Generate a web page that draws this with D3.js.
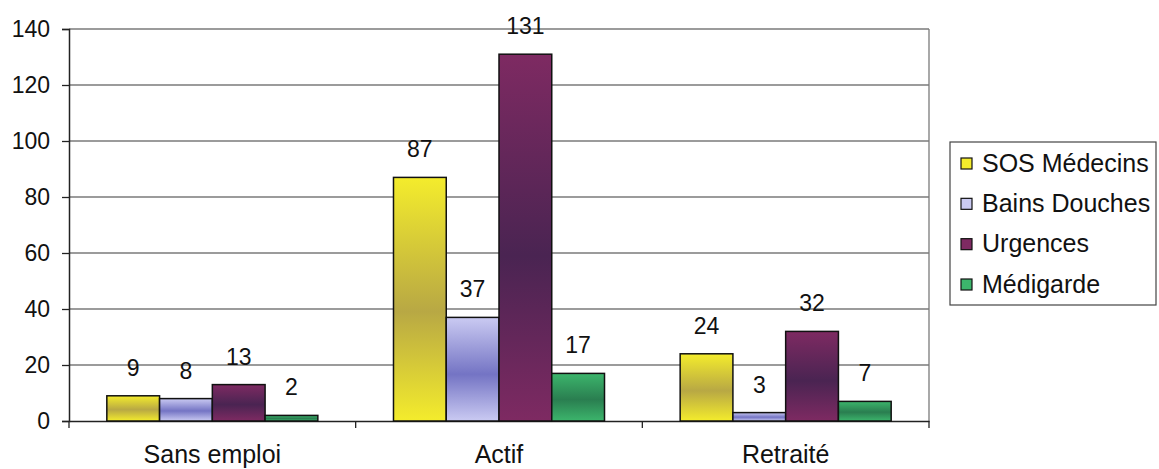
<!DOCTYPE html>
<html>
<head>
<meta charset="utf-8">
<script src="https://cdn.jsdelivr.net/npm/d3@7"></script>
<style>
  body { margin: 0; background: #fff; }
  svg text { font-family: "Liberation Sans", Arial, sans-serif; fill: #111; }
</style>
</head>
<body>
<svg id="chart" width="1159" height="469"></svg>
<script>
const categories = ["Sans emploi", "Actif", "Retraité"]
const series = ["SOS Médecins", "Bains Douches", "Urgences", "Médigarde"]
const values = [
  [9, 87, 24],   // SOS Médecins
  [8, 37, 3],    // Bains Douches
  [13, 131, 32], // Urgences
  [2, 17, 7]     // Médigarde
]
const yTicks = [0, 20, 40, 60, 80, 100, 120, 140]

// light edge, dark middle for each series
const colors = [
  ["#f4ec2c", "#b8a844"],
  ["#cacaf2", "#7474c4"],
  ["#7e2a62", "#4a2452"],
  ["#3cb56c", "#2a7e50"]
]

const plotLeft = 69, plotRight = 929, plotTop = 29, plotBottom = 421

const svg = d3.select("#chart")

const defs = svg.append("defs")
colors.forEach((c, i) => {
  const g = defs.append("linearGradient")
    .attr("id", "grad" + i)
    .attr("x1", 0).attr("y1", 0).attr("x2", 0).attr("y2", 1)
  g.append("stop").attr("offset", "0%").attr("stop-color", c[0])
  g.append("stop").attr("offset", "55%").attr("stop-color", c[1])
  g.append("stop").attr("offset", "100%").attr("stop-color", c[0])
})

const x0 = d3.scaleBand().domain(categories).range([plotLeft, plotRight]).padding(0)
const x1 = d3.scaleBand().domain(series).range([0, x0.bandwidth()])
  .paddingInner(0).paddingOuter(0.717)
const y = d3.scaleLinear().domain([0, 140]).range([plotBottom, plotTop])

// gridlines
svg.append("g")
  .selectAll("line")
  .data(yTicks.filter(d => d > 0))
  .join("line")
  .attr("x1", plotLeft).attr("x2", plotRight)
  .attr("y1", d => y(d)).attr("y2", d => y(d))
  .attr("stroke", "#7a7a7a")
  .attr("stroke-width", 1.3)

// right border of plot area
svg.append("line")
  .attr("x1", plotRight).attr("x2", plotRight)
  .attr("y1", plotTop).attr("y2", plotBottom)
  .attr("stroke", "#7a7a7a")
  .attr("stroke-width", 1.3)

// y axis
const yAxis = svg.append("g")
  .attr("transform", `translate(${plotLeft},0)`)
  .call(d3.axisLeft(y).tickValues(yTicks).tickSize(7).tickPadding(12))
yAxis.select(".domain").attr("stroke", "#222").attr("stroke-width", 1.5)
yAxis.selectAll(".tick line").attr("stroke", "#222").attr("stroke-width", 1.3)
yAxis.selectAll(".tick text")
  .style("font-size", "23px")
  .attr("font-family", null)

// x axis
const xAxis = svg.append("g")
  .attr("transform", `translate(0,${plotBottom})`)
  .call(d3.axisBottom(x0).tickSize(0).tickPadding(24))
xAxis.select(".domain").attr("stroke", "#222").attr("stroke-width", 1.5)
xAxis.selectAll(".tick text")
  .style("font-size", "25px")
  .attr("font-family", null)

// category separators
svg.append("g")
  .selectAll("line")
  .data([plotLeft, ...categories.map(c => x0(c) + x0.bandwidth())])
  .join("line")
  .attr("x1", d => d).attr("x2", d => d)
  .attr("y1", plotBottom).attr("y2", plotBottom + 7)
  .attr("stroke", "#222")
  .attr("stroke-width", 1.3)

// bars
series.forEach((s, si) => {
  const rows = categories.map((c, ci) => ({ c, v: values[si][ci] }))
  const g = svg.append("g")
  g.selectAll("rect")
    .data(rows)
    .join("rect")
    .attr("x", d => x0(d.c) + x1(s))
    .attr("y", d => y(d.v))
    .attr("width", x1.bandwidth())
    .attr("height", d => y(0) - y(d.v))
    .attr("fill", `url(#grad${si})`)
    .attr("stroke", "#111")
    .attr("stroke-width", 1.5)

  g.selectAll("text")
    .data(rows)
    .join("text")
    .attr("x", d => x0(d.c) + x1(s) + x1.bandwidth() / 2)
    .attr("y", d => y(d.v) - 20)
    .attr("text-anchor", "middle")
    .style("font-size", "23px")
    .text(d => d.v)
})

// legend
const legend = svg.append("g")
legend.append("rect")
  .attr("x", 950).attr("y", 142)
  .attr("width", 206).attr("height", 163)
  .attr("fill", "#fff")
  .attr("stroke", "#444")
  .attr("stroke-width", 1.2)

const ly = d3.scalePoint().domain(series).range([163, 284])
series.forEach((s, i) => {
  legend.append("rect")
    .attr("x", 961).attr("y", ly(s) - 5)
    .attr("width", 11).attr("height", 11)
    .attr("fill", colors[i][0])
    .attr("stroke", "#111")
    .attr("stroke-width", 1.2)
  legend.append("text")
    .attr("x", 982).attr("y", ly(s))
    .attr("dy", "0.35em")
    .style("font-size", "25px")
    .text(s)
})
</script>
</body>
</html>
